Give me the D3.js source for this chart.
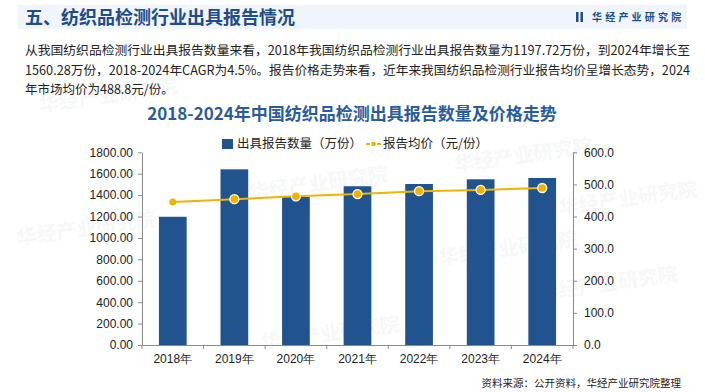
<!DOCTYPE html>
<html>
<head>
<meta charset="utf-8">
<script src="https://cdn.jsdelivr.net/npm/d3@7/dist/d3.min.js"></script>
<style>
  body { margin: 0; background: #fff; }
  svg { display: block; font-family: "Noto Sans CJK SC", "Noto Sans", sans-serif; }
  .axis text { font-family: "Liberation Sans", Arial, sans-serif; font-size: 12px; fill: #222; }
  .axis path, .axis line { stroke: #8a8a8a; }
</style>
</head>
<body>
<svg id="chart" width="705" height="392"></svg>
<script>
const years = ["2018年", "2019年", "2020年", "2021年", "2022年", "2023年", "2024年"];
const reportCount = [1197.72, 1641, 1383, 1483, 1504, 1548, 1560.28];
const avgPrice = [445, 454, 463, 470, 479, 483, 488.8];
const leftTicks = [0, 200, 400, 600, 800, 1000, 1200, 1400, 1600, 1800];
const rightTicks = [0, 100, 200, 300, 400, 500, 600];

const introLines = [
    "从我国纺织品检测行业出具报告数量来看，2018年我国纺织品检测行业出具报告数量为1197.72万份，到2024年增长至",
    "1560.28万份，2018-2024年CAGR为4.5%。报告价格走势来看，近年来我国纺织品检测行业报告均价呈增长态势，2024",
    "年市场均价为488.8元/份。"
];

const barColor = "#21538f";
const lineColor = "#f0b400";
const blue = "#1f4c8a";

const svg = d3.select("#chart");

// 水印
const marks = [[18, 245], [250, 200], [455, 172], [262, 350], [540, 300], [440, 265], [40, 112], [560, 215]];
svg.append("g").selectAll("text")
    .data(marks)
    .enter().append("text")
    .attr("transform", d => `translate(${d[0]},${d[1]}) rotate(-8)`)
    .attr("font-size", 20)
    .attr("font-weight", "bold")
    .attr("fill", "#9aa3ad")
    .attr("opacity", 0.08)
    .text("华经产业研究院");

// 顶部标题栏
svg.append("rect")
    .attr("x", 18).attr("y", 5)
    .attr("width", 669).attr("height", 24)
    .attr("fill", "#eef3fb")
    .attr("opacity", 0.9);

svg.append("text")
    .attr("x", 25).attr("y", 24)
    .attr("font-size", 18)
    .attr("font-weight", "bold")
    .attr("fill", blue)
    .text("五、纺织品检测行业出具报告情况");

svg.append("rect").attr("x", 576).attr("y", 12).attr("width", 2.5).attr("height", 10).attr("fill", blue);
svg.append("rect").attr("x", 580.5).attr("y", 12).attr("width", 2.5).attr("height", 10).attr("fill", blue);
svg.append("text")
    .attr("x", 592).attr("y", 21)
    .attr("font-size", 10)
    .attr("font-weight", "bold")
    .attr("letter-spacing", 3.2)
    .attr("fill", blue)
    .text("华经产业研究院");

// 说明文字
svg.append("g").selectAll("text")
    .data(introLines)
    .enter().append("text")
    .attr("x", 25)
    .attr("y", (d, i) => 55 + i * 19.5)
    .attr("font-size", 12.5)
    .attr("fill", "#222")
    .attr("textLength", (d, i) => i < 2 ? 665 : null)
    .attr("lengthAdjust", "spacingAndGlyphs")
    .text(d => d);

// 图表标题
svg.append("text")
    .attr("x", 352).attr("y", 120)
    .attr("text-anchor", "middle")
    .attr("font-size", 17)
    .attr("font-weight", "bold")
    .attr("fill", "#2a5c9d")
    .text("2018-2024年中国纺织品检测出具报告数量及价格走势");

// 图例
const legend = svg.append("g").attr("font-size", 12.5).attr("fill", "#222");
legend.append("rect").attr("x", 222).attr("y", 139).attr("width", 11).attr("height", 10).attr("fill", barColor);
legend.append("text").attr("x", 237).attr("y", 148).text("出具报告数量（万份）");
legend.append("line").attr("x1", 366).attr("x2", 381).attr("y1", 144).attr("y2", 144)
    .attr("stroke", lineColor).attr("stroke-width", 2).attr("stroke-dasharray", "4,1.5");
legend.append("rect").attr("x", 371.5).attr("y", 142).attr("width", 4).attr("height", 4).attr("fill", lineColor);
legend.append("text").attr("x", 383).attr("y", 148).text("报告均价（元/份）");

// 坐标
const plotLeft = 142, plotRight = 573, plotTop = 152.3, plotBottom = 345;

const x = d3.scaleBand()
    .domain(years)
    .range([plotLeft, plotRight])
    .paddingInner(0.55)
    .paddingOuter(0.275);

const yL = d3.scaleLinear().domain([0, 1800]).range([plotBottom, plotTop]);
const yR = d3.scaleLinear().domain([0, 600]).range([plotBottom, plotTop]);

// 柱子
svg.append("g").selectAll("rect")
    .data(years)
    .enter().append("rect")
    .attr("x", d => x(d))
    .attr("y", (d, i) => yL(reportCount[i]))
    .attr("width", x.bandwidth())
    .attr("height", (d, i) => plotBottom - yL(reportCount[i]))
    .attr("fill", barColor);

// 坐标轴
svg.append("g")
    .attr("class", "axis")
    .attr("transform", `translate(${plotLeft},0)`)
    .call(d3.axisLeft(yL).tickValues(leftTicks).tickFormat(d3.format(".2f")).tickSize(4).tickSizeOuter(0))
    .call(g => g.selectAll("text").attr("dx", -2));

svg.append("g")
    .attr("class", "axis")
    .attr("transform", `translate(${plotRight},0)`)
    .call(d3.axisRight(yR).tickValues(rightTicks).tickFormat(d3.format(".1f")).tickSize(4).tickSizeOuter(0))
    .call(g => g.selectAll("text").attr("dx", 4));

const xAxis = svg.append("g")
    .attr("class", "axis")
    .attr("transform", `translate(0,${plotBottom})`)
    .call(d3.axisBottom(x).tickSize(0).tickSizeOuter(0))
    .call(g => g.selectAll("text").attr("dy", "1.25em"));

xAxis.selectAll(".sep")
    .data(d3.range(years.length + 1))
    .enter().append("line")
    .attr("class", "sep")
    .attr("x1", i => plotLeft + i * x.step())
    .attr("x2", i => plotLeft + i * x.step())
    .attr("y1", 0).attr("y2", 4);

// 均价折线
const line = d3.line()
    .x((d, i) => x(years[i]) + x.bandwidth() / 2)
    .y(d => yR(d));

svg.append("path")
    .datum(avgPrice)
    .attr("d", line)
    .attr("fill", "none")
    .attr("stroke", lineColor)
    .attr("stroke-width", 2);

svg.append("g").selectAll("circle")
    .data(avgPrice)
    .enter().append("circle")
    .attr("cx", (d, i) => x(years[i]) + x.bandwidth() / 2)
    .attr("cy", d => yR(d))
    .attr("r", (d, i) => i === 0 ? 3.5 : 4.5)
    .attr("fill", lineColor)
    .attr("stroke", "#fff")
    .attr("stroke-width", (d, i) => i === 0 ? 0 : 1.3);

// 资料来源
svg.append("text")
    .attr("x", 681).attr("y", 387)
    .attr("text-anchor", "end")
    .attr("font-size", 10.5)
    .attr("fill", "#222")
    .text("资料来源：公开资料，华经产业研究院整理");
</script>
</body>
</html>
